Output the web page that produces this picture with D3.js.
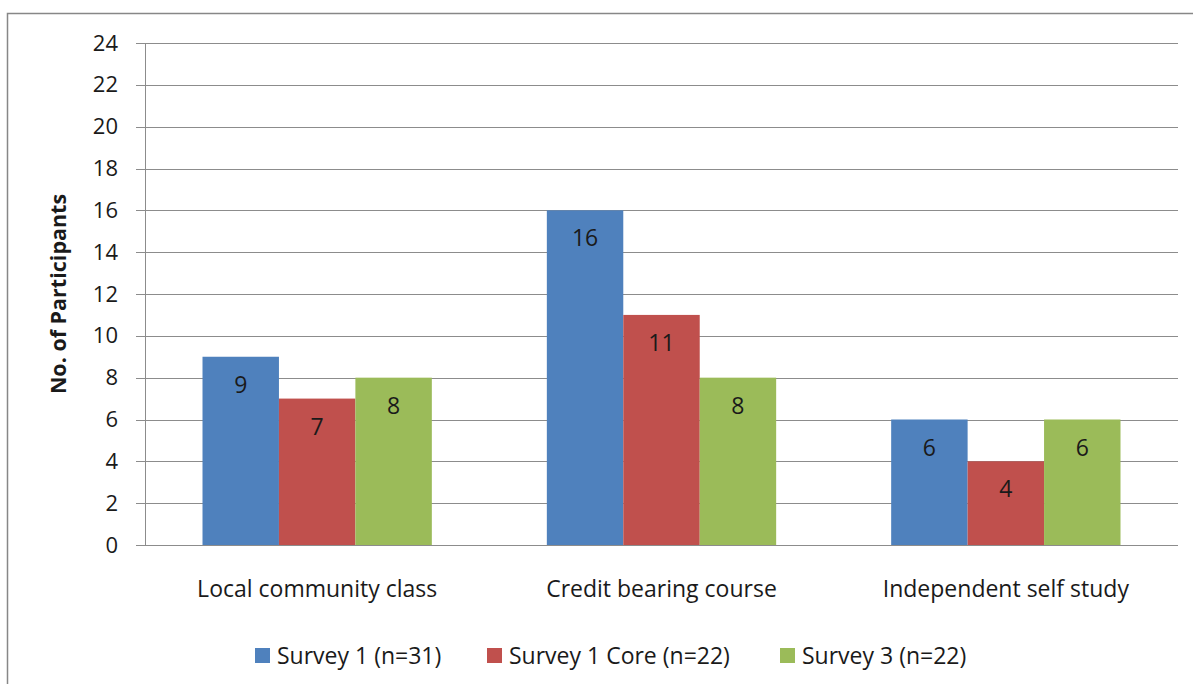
<!DOCTYPE html>
<html><head><meta charset="utf-8">
<script src="https://cdn.jsdelivr.net/npm/d3@7"></script>
<style>body{margin:0;background:#fff;font-family:"Open Sans","Liberation Sans",sans-serif;}</style>
</head><body>
<svg id="c" width="1193" height="684"></svg>
<script>
const categories = ["Local community class", "Credit bearing course", "Independent self study"];
const seriesNames = ["Survey 1 (n=31)", "Survey 1 Core (n=22)", "Survey 3 (n=22)"];
const survey1 = [9, 16, 6];
const survey1Core = [7, 11, 4];
const survey3 = [8, 8, 6];
const yTicks = [0, 2, 4, 6, 8, 10, 12, 14, 16, 18, 20, 22, 24];
const colors = ["#4F81BD", "#C0504D", "#9BBB59"];
const series = [survey1, survey1Core, survey3];

const svg = d3.select("#c");
const m = {left: 145, right: 1178, top: 43, bottom: 545};
const font = "'Open Sans','Liberation Sans',sans-serif";
const txt = "#1a1a1a";

// frame
svg.append("rect").attr("x", 7.5).attr("y", 13.5).attr("width", 1200).attr("height", 700)
  .attr("fill", "none").attr("stroke", "#878787").attr("stroke-width", 1.5);

const y = d3.scaleLinear().domain([0, 24]).range([m.bottom, m.top]);
const x0 = d3.scaleBand().domain(categories).range([m.left, m.right]).paddingInner(0.334).paddingOuter(0.167);
const x1 = d3.scaleBand().domain(d3.range(3)).range([0, x0.bandwidth()]);

// gridlines
svg.append("g").selectAll("line").data(yTicks).join("line")
  .attr("x1", m.left - 9).attr("x2", m.right)
  .attr("y1", d => Math.round(y(d)) + 0.5).attr("y2", d => Math.round(y(d)) + 0.5)
  .attr("stroke", "#8c8c8c").attr("stroke-width", 1);

// y axis tick labels
const yAxis = d3.axisLeft(y).tickValues(yTicks).tickSize(0).tickPadding(0);
const ya = svg.append("g").attr("transform", `translate(${m.left - 27},0)`).call(yAxis);
ya.select(".domain").remove();
ya.selectAll("text").attr("font-size", 22).attr("font-family", font).attr("fill", txt);

// y axis line
svg.append("line").attr("x1", m.left + 0.5).attr("x2", m.left + 0.5).attr("y1", m.top).attr("y2", m.bottom)
  .attr("stroke", "#8c8c8c");

// bars
const g = svg.append("g");
categories.forEach((c, ci) => {
  series.forEach((s, si) => {
    const bx = x0(c) + x1(si);
    g.append("rect").attr("x", bx).attr("y", y(s[ci]))
      .attr("width", x1.bandwidth()).attr("height", y(0) - y(s[ci]))
      .attr("fill", colors[si]);
    g.append("text").attr("x", bx + x1.bandwidth() / 2).attr("y", y(s[ci]) + 36)
      .attr("text-anchor", "middle").attr("font-size", 23).attr("font-family", font)
      .attr("fill", txt).text(s[ci]);
  });
});

// x axis line
svg.append("line").attr("x1", m.left).attr("x2", m.right).attr("y1", m.bottom + 0.5).attr("y2", m.bottom + 0.5)
  .attr("stroke", "#8c8c8c");

// x axis labels
const xAxis = d3.axisBottom(x0).tickSize(0).tickPadding(0);
const xa = svg.append("g").attr("transform", `translate(0,${m.bottom + 52})`).call(xAxis);
xa.select(".domain").remove();
xa.selectAll("text").attr("font-size", 23).attr("font-family", font).attr("fill", txt).attr("dy", 0);

// y title
svg.append("text").attr("transform", `translate(66,${(m.top + m.bottom) / 2}) rotate(-90)`)
  .attr("text-anchor", "middle").attr("font-size", 21.5).attr("font-weight", "bold")
  .attr("font-family", font).attr("fill", txt).text("No. of Participants");

// legend
const legX = [255, 487, 780];
seriesNames.forEach((n, i) => {
  svg.append("rect").attr("x", legX[i]).attr("y", 648).attr("width", 15).attr("height", 15).attr("fill", colors[i]);
  svg.append("text").attr("x", legX[i] + 22).attr("y", 664).attr("font-size", 23)
    .attr("font-family", font).attr("fill", txt).text(n);
});
</script>
</body></html>
